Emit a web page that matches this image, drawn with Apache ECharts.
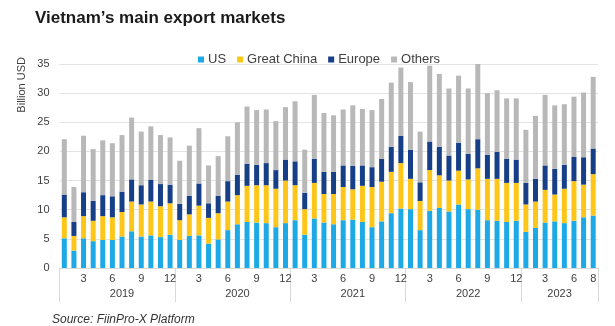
<!DOCTYPE html>
<html>
<head>
<meta charset="utf-8">
<script src="https://cdn.jsdelivr.net/npm/echarts@6/dist/echarts.min.js"></script>
<style>
html,body{margin:0;padding:0;background:#fff;}
#chart{width:615px;height:326px;}
</style>
</head>
<body>
<div id="chart"></div>
<script>
// Monthly categories Jan 2019 - Aug 2023
const months = ['1','2','3','4','5','6','7','8','9','10','11','12',
  '1','2','3','4','5','6','7','8','9','10','11','12',
  '1','2','3','4','5','6','7','8','9','10','11','12',
  '1','2','3','4','5','6','7','8','9','10','11','12',
  '1','2','3','4','5','6','7','8'];
const yearLabels = ['2019','2020','2021','2022','2023'];
const yearLabelIndex = [6, 18, 30, 42, 52];
const yearStartIndex = [0, 12, 24, 36, 48];
const monthLabelsShown = ['3','6','9','12'];
const yTicks = [0, 5, 10, 15, 20, 25, 30, 35];

// Billion USD
const us = [5.1,3.0,5.1,4.6,4.8,4.8,5.4,6.3,5.4,5.6,5.3,5.7,
  4.8,5.5,5.6,4.2,4.9,6.5,7.5,7.9,7.8,7.7,7.0,7.7,
  8.2,5.7,8.5,7.8,7.5,8.2,8.3,7.9,7.0,8.0,9.4,10.2,
  10.1,6.5,9.8,10.3,9.7,10.9,10.1,10.0,8.2,8.1,7.9,8.1,
  6.2,6.9,7.8,8.0,7.7,8.1,8.7,9.0];
const greatChina = [3.6,2.5,3.8,3.5,4.1,3.9,4.2,5.1,5.5,5.8,5.3,5.4,
  3.4,3.7,5.1,4.4,4.5,4.9,5.0,6.2,6.4,6.5,6.6,7.3,
  6.0,4.4,6.1,4.9,5.2,5.7,5.2,6.2,6.9,6.8,7.1,7.8,
  5.2,5.0,7.0,5.6,5.3,5.8,5.1,7.1,7.1,7.2,6.7,6.5,
  4.7,4.5,5.6,4.6,5.9,6.8,5.6,7.1];
const europe = [3.9,2.4,4.1,3.4,3.6,3.6,3.5,3.8,3.3,3.7,3.8,3.2,
  2.8,3.2,3.8,2.5,3.0,3.5,3.5,3.8,3.5,3.8,3.2,3.6,
  4.1,2.8,4.1,3.8,3.8,3.7,4.0,3.5,3.4,3.9,4.3,4.7,
  5.0,3.2,4.9,4.9,4.3,4.8,4.4,5.0,4.1,4.6,4.1,4.0,
  3.7,3.9,4.2,4.4,4.1,4.2,4.7,4.4];
const others = [9.5,6.0,9.7,8.9,9.4,9.1,9.7,10.6,9.2,9.2,8.4,8.1,
  7.4,8.6,9.5,6.5,6.8,7.7,9.0,9.8,9.4,9.2,8.4,9.0,
  10.3,7.4,11.0,10.1,9.7,9.6,10.4,9.7,9.8,10.3,11.0,11.7,
  11.6,8.7,13.0,12.5,11.5,11.5,11.2,12.9,10.6,10.6,10.4,10.5,
  9.1,10.8,12.1,10.9,10.4,10.3,11.1,12.3];

const FONT = '"Liberation Sans", Arial, sans-serif';
const years = months.map((m, i) => {
  const k = yearLabelIndex.indexOf(i);
  return k >= 0 ? yearLabels[k] : '';
});

const chart = echarts.init(document.getElementById('chart'), null, {renderer: 'canvas'});
const bar = (name, data, color) => ({
  name, type: 'bar', stack: 'total', data, barWidth: 5,
  itemStyle: {color}, emphasis: {disabled: true}
});
chart.setOption({
  animation: false,
  backgroundColor: '#ffffff',
  textStyle: {fontFamily: FONT},
  title: {
    text: 'Vietnam\u2019s main export markets',
    left: 30, top: 5,
    textStyle: {fontFamily: FONT, fontSize: 17, fontWeight: 'bold', color: '#1a1a1a'}
  },
  legend: {
    left: 193, top: 48,
    itemWidth: 6, itemHeight: 6, itemGap: 11,
    icon: 'rect',
    textStyle: {fontFamily: FONT, fontSize: 13, color: '#404040', padding: [0,0,0,-1]},
    data: ['US', 'Great China', 'Europe', 'Others']
  },
  grid: {left: 59.5, right: 17, top: 64, bottom: 58, containLabel: false},
  xAxis: [{
    type: 'category', data: months, position: 'bottom',
    axisLine: {show: true, lineStyle: {color: '#d9d9d9'}},
    axisTick: {show: false},
    axisLabel: {
      fontFamily: FONT, fontSize: 11, color: '#404040', margin: 5,
      interval: (i, v) => monthLabelsShown.includes(v) || i === months.length - 1
    }
  }, {
    type: 'category', data: years, position: 'bottom',
    axisLine: {show: false},
    axisTick: {show: true, length: 34, lineStyle: {color: '#d9d9d9'},
      interval: (i) => yearStartIndex.includes(i)},
    axisLabel: {
      fontFamily: FONT, fontSize: 11, color: '#404040', margin: 20,
      interval: (i) => yearLabelIndex.includes(i),
      formatter: (v) => v === '2023' ? '{s|' + v + '}' : v,
      rich: {s: {fontFamily: FONT, fontSize: 11, color: '#404040', padding: [0, 9.6, 0, 0]}}
    }
  }],
  yAxis: {
    type: 'value', min: yTicks[0], max: yTicks[yTicks.length - 1], interval: 5,
    axisLine: {show: false}, axisTick: {show: false},
    axisLabel: {fontFamily: FONT, fontSize: 11, color: '#404040', margin: 10},
    splitLine: {lineStyle: {color: '#e3e3e3'}}
  },
  graphic: [{
    type: 'text', left: 16, top: 57, rotation: Math.PI / 2,
    style: {text: 'Billion USD', fontFamily: FONT, fontSize: 11, fill: '#404040'}
  }, {
    type: 'text', left: 52, top: 314,
    style: {text: 'Source: FiinPro-X Platform', fontFamily: FONT, fontSize: 12,
      fontStyle: 'italic', fill: '#333333'}
  }],
  series: [
    bar('US', us, '#1ca9e6'),
    bar('Great China', greatChina, '#ffc61a'),
    bar('Europe', europe, '#163f87'),
    bar('Others', others, '#b8b8b8')
  ]
});
</script>
</body>
</html>
